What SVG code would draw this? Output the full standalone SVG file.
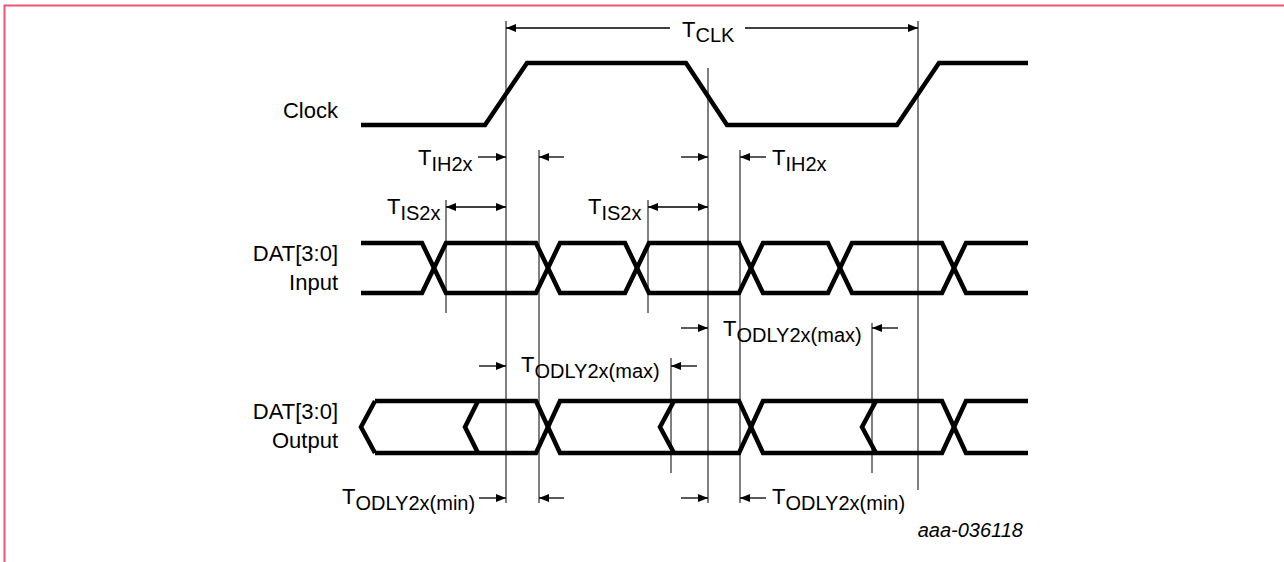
<svg xmlns="http://www.w3.org/2000/svg" width="1284" height="562" viewBox="0 0 1284 562">
<style>
.bg{fill:#fff}
.frame{stroke:#ef5474;stroke-width:2;fill:none}
.sig{stroke:#000;stroke-width:4.5;fill:none;stroke-linejoin:miter;stroke-linecap:butt}
.ref{stroke:#000;stroke-width:1;fill:none}
.dim{stroke:#000;stroke-width:1.3;fill:none}
.lbl{font-family:"Liberation Sans",Arial,sans-serif;font-size:22px;fill:#000}
.t{font-family:"Liberation Sans",Arial,sans-serif;font-size:22px;fill:#000}
.s{font-size:20px}
.id{font-family:"Liberation Sans",Arial,sans-serif;font-size:20px;font-style:italic;fill:#000}
</style>
<defs>
<marker id="ah" markerUnits="userSpaceOnUse" markerWidth="11" markerHeight="9" refX="10" refY="4" orient="auto-start-reverse">
<path d="M0,0 L10,4 L0,8 z" fill="#000"/>
</marker>
</defs>
<rect class="bg" x="0" y="0" width="1284" height="562"/>
<path class="frame" d="M4.5,562 V5.5 H1284"/>

<g id="clock">
<text class="lbl" x="338" y="118" text-anchor="end">Clock</text>
<path class="sig" d="M361,125 H485 L527,63 H686 L727,125 H897 L939,63 H1028"/>
</g>

<g id="dat-input">
<text class="lbl" x="338" y="261" text-anchor="end">DAT[3:0]</text>
<text class="lbl" x="338" y="290" text-anchor="end">Input</text>
<path class="sig" d="M361,243 H422 L446,293 H536 L560,243 H625 L649,293 H739 L763,243 H828 L852,293 H942 L966,243 H1028"/>
<path class="sig" d="M361,293 H422 L446,243 H536 L560,293 H625 L649,243 H739 L763,293 H828 L852,243 H942 L966,293 H1028"/>
</g>

<g id="dat-output">
<text class="lbl" x="338" y="419" text-anchor="end">DAT[3:0]</text>
<text class="lbl" x="338" y="448" text-anchor="end">Output</text>
<path class="sig" d="M375,401 L361,427 L375,453"/>
<path class="sig" d="M375,401 H536 L560,453 H739 L763,401 H942 L966,453 H1028"/>
<path class="sig" d="M375,453 H536 L560,401 H739 L763,453 H942 L966,401 H1028"/>
<path class="sig" d="M478,401 L465,427 L478,453"/>
<path class="sig" d="M674,401 L660,427 L674,453"/>
<path class="sig" d="M876,401 L862,427 L876,453"/>
</g>

<g id="reference-lines">
<line class="ref" x1="506" y1="21" x2="506" y2="503"/>
<line class="ref" x1="708" y1="68" x2="708" y2="503"/>
<line class="ref" x1="918" y1="21" x2="918" y2="490"/>
<line class="ref" x1="446" y1="200" x2="446" y2="313"/>
<line class="ref" x1="648" y1="200" x2="648" y2="313"/>
<line class="ref" x1="539" y1="150" x2="539" y2="503"/>
<line class="ref" x1="740" y1="150" x2="740" y2="503"/>
<line class="ref" x1="671" y1="358" x2="671" y2="473"/>
<line class="ref" x1="872" y1="323" x2="872" y2="473"/>
</g>

<g id="connectors">
<line class="dim" x1="670" y1="28" x2="506" y2="28" marker-end="url(#ah)"/>
<line class="dim" x1="745" y1="28" x2="918" y2="28" marker-end="url(#ah)"/>
<line class="dim" x1="478" y1="157" x2="506" y2="157" marker-end="url(#ah)"/>
<line class="dim" x1="564" y1="157" x2="539" y2="157" marker-end="url(#ah)"/>
<line class="dim" x1="681" y1="157" x2="708" y2="157" marker-end="url(#ah)"/>
<line class="dim" x1="766" y1="157" x2="740" y2="157" marker-end="url(#ah)"/>
<line class="dim" x1="446" y1="207" x2="506" y2="207" marker-start="url(#ah)" marker-end="url(#ah)"/>
<line class="dim" x1="648" y1="207" x2="708" y2="207" marker-start="url(#ah)" marker-end="url(#ah)"/>
<line class="dim" x1="681" y1="328" x2="708" y2="328" marker-end="url(#ah)"/>
<line class="dim" x1="898" y1="328" x2="872" y2="328" marker-end="url(#ah)"/>
<line class="dim" x1="479" y1="366" x2="506" y2="366" marker-end="url(#ah)"/>
<line class="dim" x1="697" y1="366" x2="671" y2="366" marker-end="url(#ah)"/>
<line class="dim" x1="479" y1="498" x2="506" y2="498" marker-end="url(#ah)"/>
<line class="dim" x1="564" y1="498" x2="539" y2="498" marker-end="url(#ah)"/>
<line class="dim" x1="681" y1="498" x2="708" y2="498" marker-end="url(#ah)"/>
<line class="dim" x1="766" y1="498" x2="740" y2="498" marker-end="url(#ah)"/>
</g>

<g id="timing-labels">
<text class="t" x="682" y="37">T<tspan class="s" dy="5">CLK</tspan></text>
<text class="t" x="418" y="165">T<tspan class="s" dy="6">IH2x</tspan></text>
<text class="t" x="772" y="165">T<tspan class="s" dy="6">IH2x</tspan></text>
<text class="t" x="387" y="214">T<tspan class="s" dy="6">IS2x</tspan></text>
<text class="t" x="588" y="214">T<tspan class="s" dy="6">IS2x</tspan></text>
<text class="t" x="723" y="336">T<tspan class="s" dy="6">ODLY2x(max)</tspan></text>
<text class="t" x="521" y="372">T<tspan class="s" dy="6">ODLY2x(max)</tspan></text>
<text class="t" x="342" y="504">T<tspan class="s" dy="6">ODLY2x(min)</tspan></text>
<text class="t" x="772" y="504">T<tspan class="s" dy="6">ODLY2x(min)</tspan></text>
<text class="id" x="1023" y="537" text-anchor="end">aaa-036118</text>
</g>
</svg>
